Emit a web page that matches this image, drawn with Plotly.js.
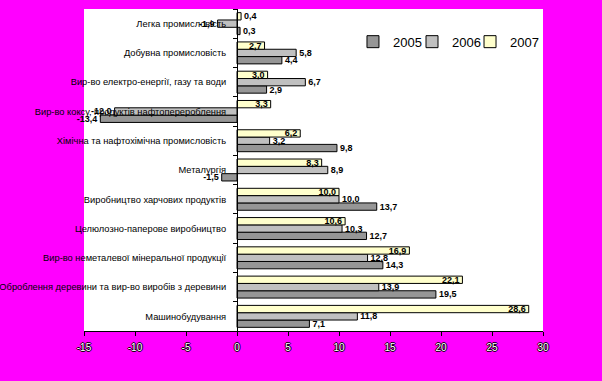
<!DOCTYPE html>
<html><head><meta charset="utf-8">
<script src="https://cdn.plot.ly/plotly-3.0.1.min.js"></script>
<style>html,body{margin:0;padding:0;background:#FF00FF;}</style>
</head><body>
<div id="chart" style="width:602px;height:381px;"></div>
<script>
// categories listed bottom-to-top
const categories = [
  "Машинобудування",
  "Оброблення деревини та вир-во виробів з деревини",
  "Вир-во неметалевої мінеральної продукції",
  "Целюлозно-паперове виробництво",
  "Виробництво харчових продуктів",
  "Металургія",
  "Хімічна та нафтохімічна промисловість",
  "Вир-во коксу, продуктів нафтоперероблення",
  "Вир-во електро-енергії, газу та води",
  "Добувна промисловість",
  "Легка промисловість"
];
const v2005 = [7.1, 19.5, 14.3, 12.7, 13.7, -1.5, 9.8, -13.4, 2.9, 4.4, 0.3];
const v2006 = [11.8, 13.9, 12.8, 10.3, 10.0, 8.9, 3.2, -12.0, 6.7, 5.8, -1.9];
const v2007 = [28.6, 22.1, 16.9, 10.6, 10.0, 8.3, 6.2, 3.3, 3.0, 2.7, 0.4];
const xTicks = [-15, -10, -5, 0, 5, 10, 15, 20, 25, 30];

const fmt = a => a.map(v => v.toFixed(1).replace('.', ','));
const labelFont = {family: 'Liberation Sans, Arial, sans-serif', size: 9, color: '#000', weight: 'bold'};
const legFont = {family: 'Liberation Sans, Arial, sans-serif', size: 13, color: '#000'};

function mk(name, vals, color, pos, leg) {
  return {
    type: 'bar', orientation: 'h', name: name, legend: leg,
    y: categories, x: vals,
    text: fmt(vals), textposition: pos, insidetextanchor: 'end',
    constraintext: 'none', cliponaxis: false,
    textfont: labelFont, insidetextfont: labelFont, outsidetextfont: labelFont,
    marker: {color: color, line: {color: '#000', width: 1}},
    hoverinfo: 'none'
  };
}
const data = [
  mk('2005', v2005, '#969696', 'outside', 'legend'),
  mk('2006', v2006, '#C0C0C0', 'outside', 'legend2'),
  mk('2007', v2007, '#FFFFCC', v2007.map(v => Math.abs(v) < 1 ? 'outside' : 'inside'), 'legend3')
];
const legBase = {y: 0.945, xanchor: 'left', yanchor: 'top', bgcolor: 'rgba(0,0,0,0)', font: legFont};
const layout = {
  width: 602, height: 381,
  paper_bgcolor: '#FF00FF', plot_bgcolor: '#FFFFFF',
  margin: {l: 84, r: 59, t: 9, b: 50, autoexpand: false},
  barmode: 'group', bargap: 0.25, bargroupgap: 0,
  showlegend: true,
  legend: Object.assign({x: 0.586}, legBase),
  legend2: Object.assign({x: 0.7146}, legBase),
  legend3: Object.assign({x: 0.841}, legBase),
  xaxis: {
    range: [-15, 30], tickvals: xTicks, ticktext: xTicks.map(String), automargin: false,
    showgrid: false, zeroline: false, showline: true, linecolor: '#000', linewidth: 1,
    ticks: 'outside', ticklen: 4, tickcolor: '#000', ticklabelstandoff: 3,
    tickfont: {family: 'Liberation Sans, Arial, sans-serif', size: 10, color: '#FFFFFF',
      shadow: '1px 0 0 #000, -1px 0 0 #000, 0 1px 0 #000, 0 -1px 0 #000'},
    fixedrange: true
  },
  yaxis: {
    type: 'category', anchor: 'free', position: 1/3, automargin: false,
    showgrid: false, zeroline: false, showline: true, linecolor: '#000', linewidth: 1,
    ticks: 'outside', ticklen: 4, tickcolor: '#000', tickson: 'boundaries', ticklabelstandoff: 9,
    tickfont: {family: 'Liberation Sans, Arial, sans-serif', size: 9.3, color: '#000'},
    fixedrange: true
  },
  font: {family: 'Liberation Sans, Arial, sans-serif'}
};
Plotly.newPlot('chart', data, layout, {displayModeBar: false, staticPlot: true});
</script>
</body></html>
